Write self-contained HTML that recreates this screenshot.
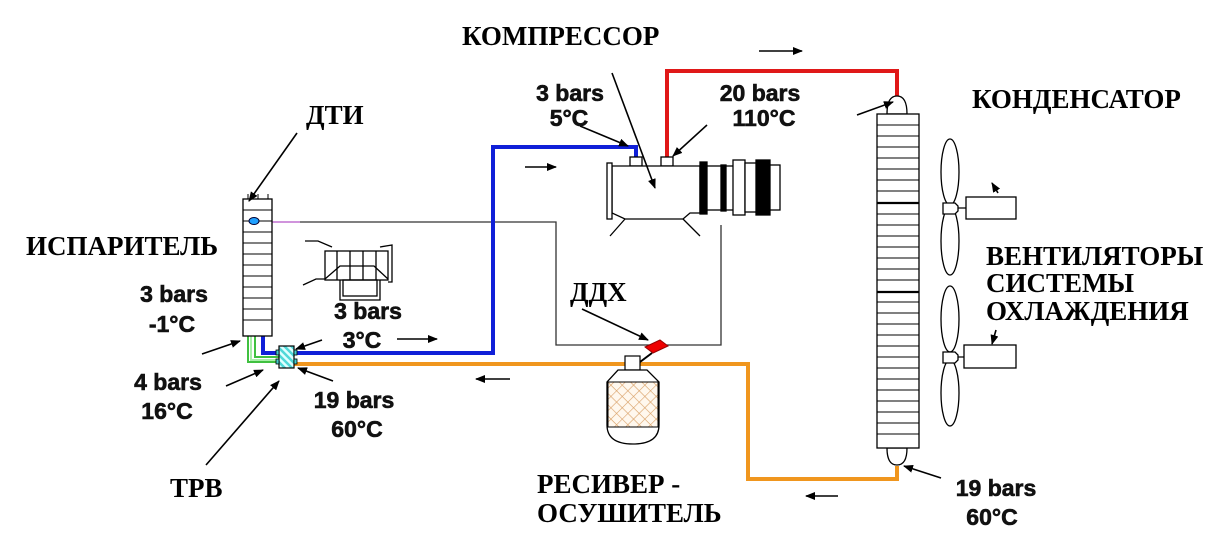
<!DOCTYPE html>
<html><head><meta charset="utf-8"><style>
html,body{margin:0;padding:0;background:#fff;}
svg{display:block;}
.t{font-family:"Liberation Serif","Noto Serif CJK SC",serif;font-weight:bold;font-size:27px;fill:#000;}
.n{font-family:"Liberation Sans","DejaVu Sans",sans-serif;font-weight:bold;font-size:23px;fill:#111;stroke:#111;stroke-width:0.6;}
</style></head><body>
<svg width="1220" height="534" viewBox="0 0 1220 534" xmlns="http://www.w3.org/2000/svg">
<defs>
<marker id="a" markerWidth="10" markerHeight="8" refX="9" refY="4" orient="auto" markerUnits="userSpaceOnUse"><path d="M0,0 L10,4 L0,8 Z" fill="#000"/></marker>
<pattern id="hx" width="8" height="8" patternUnits="userSpaceOnUse" patternTransform="rotate(45)"><rect width="8" height="8" fill="#fff8ee"/><path d="M0,0 V8 M0,0 H8" stroke="#d9a066" stroke-width="1.2"/></pattern>
<pattern id="cy" width="5" height="5" patternUnits="userSpaceOnUse" patternTransform="rotate(-45)"><rect width="5" height="5" fill="#e0ffff"/><rect width="2.5" height="5" fill="#4fd8d8"/></pattern>
</defs>

<path d="M300,222 H556 V345 H721 V225" fill="none" stroke="#333" stroke-width="1.3"/>
<path d="M272,222 H300" stroke="#c070d0" stroke-width="1.5"/>

<path d="M263,336 V353 H493 V147 H636 V158" fill="none" stroke="#1020d8" stroke-width="4"/>
<path d="M667,158 V71 H897 V96" fill="none" stroke="#e01818" stroke-width="4"/>
<path d="M294,364 H748 V479 H897 V466" fill="none" stroke="#f0961e" stroke-width="4"/>
<path d="M248,336 V362 H279 M255,336 V357 H279" fill="none" stroke="#40c040" stroke-width="2"/>
<path d="M251,336 V360 H279" fill="none" stroke="#a8f0a8" stroke-width="2"/>

<rect x="243" y="199" width="29" height="137" fill="#fff" stroke="#000" stroke-width="1.3"/>
<g stroke="#000" stroke-width="1">
<path d="M243,210H272M243,221H272M243,232H272M243,243H272M243,254H272M243,265H272M243,276H272M243,287H272M243,298H272M243,309H272M243,320H272"/>
<path d="M248,199V194M258,199V194M268,199V194"/>
</g>
<ellipse cx="254" cy="221" rx="5" ry="3.5" fill="#20a0ff" stroke="#003" stroke-width="1"/>

<rect x="279" y="346" width="15" height="22" fill="url(#cy)" stroke="#000" stroke-width="1.2"/>
<rect x="276" y="350" width="3" height="5" fill="#4cc" stroke="#000" stroke-width=".8"/>
<rect x="276" y="359" width="3" height="5" fill="#4cc" stroke="#000" stroke-width=".8"/>
<rect x="294" y="350" width="3" height="5" fill="#4cc" stroke="#000" stroke-width=".8"/>
<rect x="294" y="359" width="3" height="5" fill="#4cc" stroke="#000" stroke-width=".8"/>

<g fill="none" stroke="#000" stroke-width="1.3">
<rect x="325" y="251" width="63" height="29"/>
<path d="M337,251V280M350,251V280M363,251V280M376,251V280"/>
<path d="M325,279 L340,266 H374 L388,279"/>
<rect x="343" y="280" width="34" height="16"/>
<path d="M340,280V300H380V280"/>
<path d="M305,241 L318,241 L332,247 M380,247 L392,245 V282 H388 M303,285 L316,279 H325"/>
</g>

<g stroke="#000" stroke-width="1.3" fill="#fff">
<rect x="630" y="157" width="12" height="9"/>
<rect x="661" y="157" width="12" height="9"/>
<path d="M612,166 H700 V213 H690 L683,219 H625 L612,213 Z"/>
<rect x="607" y="163" width="5" height="56"/>
<path d="M625,219 L610,236 M683,219 L700,236" fill="none"/>
<rect x="700" y="162" width="7" height="52" fill="#000"/>
<rect x="707" y="166" width="37" height="44"/>
<rect x="721" y="165" width="5" height="46" fill="#000"/>
<rect x="733" y="160" width="12" height="55"/>
<rect x="745" y="163" width="18" height="49"/>
<rect x="756" y="160" width="14" height="55" fill="#000"/>
<rect x="770" y="165" width="10" height="45"/>
</g>

<rect x="625" y="356" width="15" height="14" fill="#fff" stroke="#000" stroke-width="1.2"/>
<path d="M640,362 L652,353" stroke="#000" stroke-width="2"/>
<path d="M645,347 L660,340 L668,346 L653,353 Z" fill="#e00" stroke="#900" stroke-width="1"/>
<path d="M618,370 H647 L659,382 V425 Q659,444 633,444 Q607,444 607,425 V382 Z" fill="#fff" stroke="#000" stroke-width="1.3"/>
<rect x="608" y="382" width="50" height="45" fill="url(#hx)" stroke="#000" stroke-width="1"/>

<path d="M887,114 Q887,96 897,96 Q907,96 907,114 Z M887,448 Q887,465 897,465 Q907,465 907,448 Z" fill="#fff" stroke="#000" stroke-width="1.3"/>
<rect x="877" y="114" width="42" height="334" fill="#fff" stroke="#000" stroke-width="1.3"/>
<g stroke="#000" stroke-width="1">
<path d="M877,125H919M877,136H919M877,147H919M877,158H919M877,169H919M877,180H919M877,191H919M877,214H919M877,225H919M877,236H919M877,247H919M877,258H919M877,269H919M877,280H919M877,302H919M877,313H919M877,324H919M877,335H919M877,346H919M877,357H919M877,368H919M877,379H919M877,390H919M877,401H919M877,412H919M877,423H919M877,434H919"/>
</g>
<path d="M877,203H919M877,292H919" stroke="#000" stroke-width="2.2"/>

<g fill="#fff" stroke="#000" stroke-width="1.3">
<ellipse cx="950" cy="172" rx="9" ry="33"/>
<ellipse cx="950" cy="241" rx="9" ry="34"/>
<ellipse cx="950" cy="319" rx="9" ry="33"/>
<ellipse cx="950" cy="393" rx="9" ry="33"/>
<path d="M943,203 H955 L958,206 V211 L955,214 H943 Z"/>
<path d="M943,352 H955 L958,355 V360 L955,363 H943 Z"/>
<path d="M958,208 H966 M958,357 H964" fill="none"/>
<rect x="966" y="197" width="50" height="22"/>
<rect x="964" y="345" width="52" height="23"/>
</g>

<g stroke="#000" stroke-width="1.6" fill="none" marker-end="url(#a)">
<path d="M297,133 L249,201"/>
<path d="M612,73 L655,188"/>
<path d="M580,126 L628,146"/>
<path d="M707,125 L673,156"/>
<path d="M857,115 L893,102"/>
<path d="M582,309 L648,340"/>
<path d="M202,354 L240,341"/>
<path d="M226,386 L263,370"/>
<path d="M206,465 L279,381"/>
<path d="M322,340 L296,349"/>
<path d="M333,381 L298,368"/>
<path d="M941,478 L904,466"/>
<path d="M998,193 L992,183"/>
<path d="M996,330 L992,344"/>
<path d="M525,167 L556,167"/>
<path d="M759,51 L802,51"/>
<path d="M397,339 L437,339"/>
<path d="M510,379 L476,379"/>
<path d="M838,496 L806,496"/>
</g>

<text class="t" x="462" y="45">КОМПРЕССОР</text>
<text class="t" x="972" y="108">КОНДЕНСАТОР</text>
<text class="t" x="306" y="124">ДТИ</text>
<text class="t" x="26" y="255">ИСПАРИТЕЛЬ</text>
<text class="t" x="570" y="301">ДДХ</text>
<text class="t" x="986" y="265">ВЕНТИЛЯТОРЫ</text>
<text class="t" x="986" y="292">СИСТЕМЫ</text>
<text class="t" x="986" y="320">ОХЛАЖДЕНИЯ</text>
<text class="t" x="170" y="497">ТРВ</text>
<text class="t" x="537" y="493">РЕСИВЕР -</text>
<text class="t" x="537" y="522">ОСУШИТЕЛЬ</text>

<g class="n" text-anchor="middle">
<text x="570" y="101">3 bars</text>
<text x="569" y="126">5°C</text>
<text x="760" y="101">20 bars</text>
<text x="764" y="126">110°C</text>
<text x="174" y="302">3 bars</text>
<text x="172" y="332">-1°C</text>
<text x="368" y="319">3 bars</text>
<text x="362" y="348">3°C</text>
<text x="168" y="390">4 bars</text>
<text x="167" y="419">16°C</text>
<text x="354" y="408">19 bars</text>
<text x="357" y="437">60°C</text>
<text x="996" y="496">19 bars</text>
<text x="992" y="525">60°C</text>
</g>
</svg>
</body></html>
